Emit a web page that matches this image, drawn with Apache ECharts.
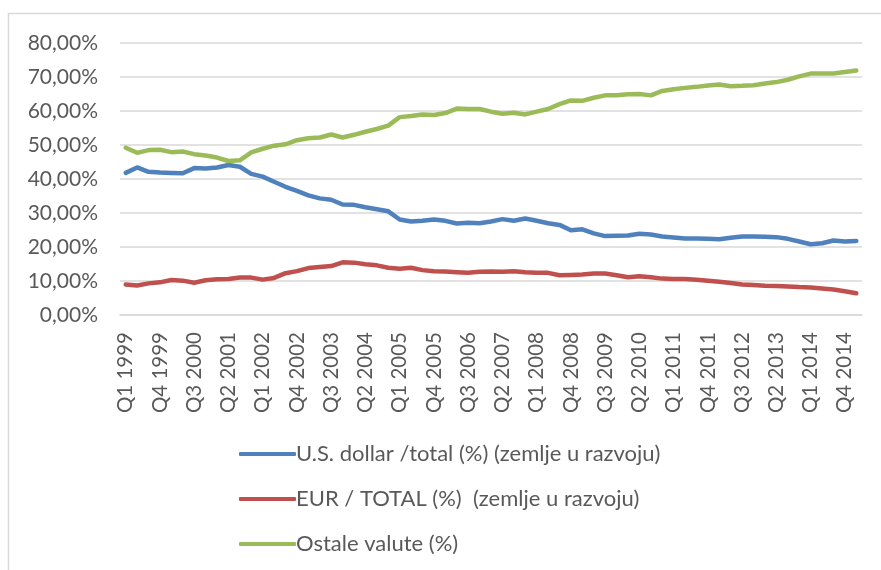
<!DOCTYPE html>
<html>
<head>
<meta charset="utf-8">
<title>Valutna struktura rezervi</title>
<script src="https://cdn.jsdelivr.net/npm/echarts@6/dist/echarts.min.js"></script>
<style>
    html, body { margin: 0; padding: 0; background: #fff; }
    #chart { width: 881px; height: 570px; }
</style>
</head>
<body>
<div id="chart"></div>
<script>
//---podaci----------------------------------
var years = [1999, 2000, 2001, 2002, 2003, 2004, 2005, 2006, 2007, 2008, 2009, 2010, 2011, 2012, 2013, 2014, 2015];
var quarters = ['Q1', 'Q2', 'Q3', 'Q4'];

var usdShare = [
    41.8, 43.4, 42.1, 41.9, 41.8, 41.7, 43.2, 43.1, 43.4, 44.1, 43.6, 41.5, 40.7,
    39.2, 37.7, 36.5, 35.2, 34.3, 33.9, 32.5, 32.4, 31.7, 31.1, 30.5, 28.1, 27.5,
    27.7, 28.1, 27.7, 26.9, 27.1, 27.0, 27.5, 28.2, 27.7, 28.4, 27.7, 27.0, 26.5,
    24.9, 25.2, 24.0, 23.2, 23.3, 23.4, 23.9, 23.7, 23.1, 22.8, 22.5, 22.5, 22.4,
    22.3, 22.7, 23.1, 23.1, 23.0, 22.9, 22.4, 21.6, 20.8, 21.1, 21.9, 21.6, 21.8
];
var eurShare = [
    9.0, 8.7, 9.3, 9.6, 10.3, 10.1, 9.5, 10.2, 10.5, 10.6, 11.0, 11.0, 10.4,
    10.9, 12.3, 12.9, 13.8, 14.1, 14.4, 15.5, 15.4, 14.9, 14.6, 13.9, 13.6, 13.9,
    13.2, 12.9, 12.8, 12.6, 12.4, 12.7, 12.8, 12.7, 12.9, 12.6, 12.4, 12.4, 11.7,
    11.8, 11.9, 12.2, 12.2, 11.7, 11.1, 11.4, 11.1, 10.7, 10.6, 10.6, 10.4, 10.1,
    9.8, 9.4, 9.0, 8.8, 8.6, 8.5, 8.4, 8.2, 8.1, 7.8, 7.5, 7.0, 6.4
];
var otherShare = [
    49.2, 47.7, 48.5, 48.6, 47.9, 48.1, 47.3, 46.9, 46.3, 45.3, 45.5, 47.8, 48.9,
    49.8, 50.2, 51.4, 52.0, 52.2, 53.1, 52.2, 53.0, 53.9, 54.7, 55.7, 58.2, 58.5,
    59.0, 58.8, 59.4, 60.7, 60.6, 60.6, 59.8, 59.2, 59.5, 59.0, 59.8, 60.6, 62.0,
    63.1, 63.0, 63.9, 64.6, 64.6, 64.9, 65.0, 64.6, 65.9, 66.4, 66.8, 67.1, 67.5,
    67.8, 67.3, 67.4, 67.6, 68.1, 68.5, 69.2, 70.2, 71.0, 71.0, 71.0, 71.5, 71.9
];

var seriesNames = [
    'U.S. dollar /total (%) (zemlje u razvoju)',
    'EUR / TOTAL (%)  (zemlje u razvoju)',
    'Ostale valute (%)'
];
var seriesValues = [usdShare, eurShare, otherShare];
var seriesColors = ['#4f81bd', '#c0504d', '#9bbb59'];

// kvartali Q1 1999 .. Q1 2015
var categories = [];
years.forEach(function (y) {
    quarters.forEach(function (q) {
        if (categories.length < usdShare.length) {
            categories.push(q + ' ' + y);
        }
    });
});
//-------------------------------------------

var FONT = 'Lato, "Liberation Sans", sans-serif';
var TEXT_COLOR = '#595959';
var GRID_COLOR = '#d9d9d9';

var chart = echarts.init(document.getElementById('chart'), null, { renderer: 'canvas' });

var option = {
    animation: false,
    backgroundColor: '#ffffff',
    textStyle: { fontFamily: FONT },
    graphic: [{
        type: 'rect',
        silent: true,
        shape: { x: 8.5, y: 13.5, width: 900, height: 600 },
        style: { fill: 'none', stroke: GRID_COLOR, lineWidth: 1.5 }
    }],
    grid: { left: 120, right: 19, top: 43, bottom: 255, containLabel: false },
    legend: {
        orient: 'vertical',
        left: 234,
        top: 437,
        itemWidth: 57,
        itemHeight: 4,
        itemGap: 21,
        icon: 'roundRect',
        data: seriesNames,
        textStyle: { color: TEXT_COLOR, fontSize: 22, fontFamily: FONT, lineHeight: 24, padding: [0, 0, 0, -5] }
    },
    xAxis: {
        type: 'category',
        data: categories,
        boundaryGap: true,
        axisLine: { lineStyle: { color: GRID_COLOR, width: 1.5 } },
        axisTick: { show: false },
        axisLabel: {
            interval: 2,
            rotate: 90,
            margin: 17,
            color: TEXT_COLOR,
            fontSize: 20.5,
            fontFamily: FONT
        }
    },
    yAxis: {
        type: 'value',
        min: 0,
        max: 80,
        interval: 10,
        axisLine: { show: false },
        axisTick: { show: false },
        splitLine: { lineStyle: { color: GRID_COLOR, width: 1.5 } },
        axisLabel: {
            margin: 22,
            color: TEXT_COLOR,
            fontSize: 21,
            fontFamily: FONT,
            formatter: function (v) {
                return v.toFixed(2).replace('.', ',') + '%';
            }
        }
    },
    series: seriesNames.map(function (name, k) {
        return {
            name: name,
            type: 'line',
            data: seriesValues[k],
            showSymbol: false,
            symbol: 'none',
            smooth: false,
            color: seriesColors[k],
            lineStyle: { width: 4.5, color: seriesColors[k], cap: 'round', join: 'round' }
        };
    })
};

chart.setOption(option);
</script>
</body>
</html>
